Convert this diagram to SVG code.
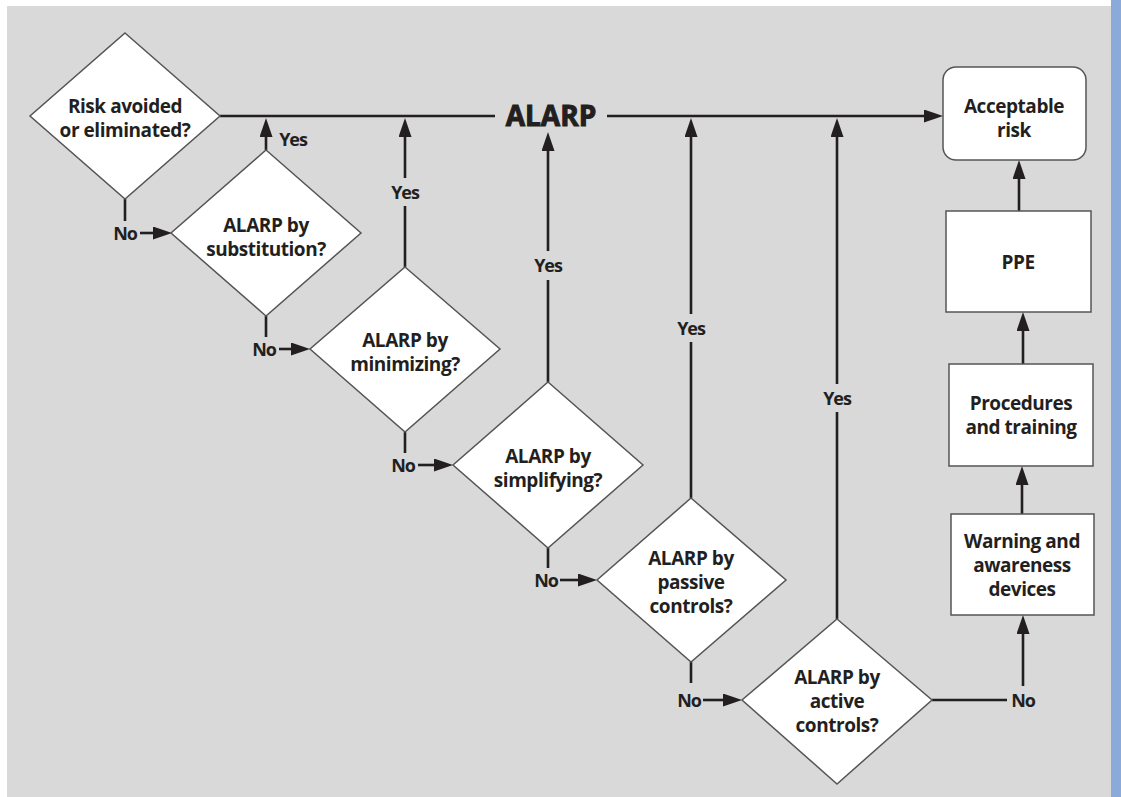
<svg xmlns="http://www.w3.org/2000/svg" width="1121" height="797" viewBox="0 0 1121 797">
<defs>
<style>
.t{font-family:"Open Sans","Liberation Sans",Arial,sans-serif;font-weight:700;font-size:19px;letter-spacing:-0.45px;fill:#231f20;text-anchor:middle}
.y{font-size:18px;letter-spacing:-1.1px}
.d{fill:#ffffff;stroke:#555555;stroke-width:1.5}
.b{fill:#ffffff;stroke:#555555;stroke-width:1.5}
.c{fill:none;stroke:#231f20;stroke-width:2.6}
</style>
<marker id="ah" markerUnits="userSpaceOnUse" markerWidth="20" markerHeight="14" refX="9" refY="6.5" orient="auto">
<path d="M0,0 L19,6.5 L0,13 z" fill="#231f20"/>
</marker>
</defs>
<rect x="0" y="0" width="1121" height="797" fill="#ffffff"/>
<rect x="7" y="6" width="1104" height="791" fill="#d9d9d9"/>
<rect x="1111" y="0" width="10" height="797" fill="#8aaad9"/>

<g id="connectors">
<path class="c" d="M220,116 H495"/>
<path class="c" d="M607,116 H933" marker-end="url(#ah)"/>
<text class="t" x="551" y="126" style="font-size:28px;letter-spacing:0;stroke:#231f20;stroke-width:1">ALARP</text>
<path class="c" d="M266,150 V128" marker-end="url(#ah)"/>
<text class="t y" x="293" y="146">Yes</text>
<path class="c" d="M405,267 V206 M405,178 V128" marker-end="url(#ah)"/>
<text class="t y" x="405" y="199">Yes</text>
<path class="c" d="M548,382 V280 M548,251 V142" marker-end="url(#ah)"/>
<text class="t y" x="548" y="272">Yes</text>
<path class="c" d="M691,498 V342 M691,314 V128" marker-end="url(#ah)"/>
<text class="t y" x="691" y="335">Yes</text>
<path class="c" d="M837,619 V412 M837,384 V128" marker-end="url(#ah)"/>
<text class="t y" x="837" y="405">Yes</text>
<path class="c" d="M125,199 V221"/>
<text class="t y" x="125" y="240">No</text>
<path class="c" d="M140,233 H162" marker-end="url(#ah)"/>
<path class="c" d="M266,316 V337"/>
<text class="t y" x="264" y="356">No</text>
<path class="c" d="M279,349 H300" marker-end="url(#ah)"/>
<path class="c" d="M405,432 V453"/>
<text class="t y" x="403" y="472">No</text>
<path class="c" d="M418,465 H443" marker-end="url(#ah)"/>
<path class="c" d="M548,548 V568"/>
<text class="t y" x="546" y="587">No</text>
<path class="c" d="M560,580 H587" marker-end="url(#ah)"/>
<path class="c" d="M691,662 V683"/>
<text class="t y" x="689" y="707">No</text>
<path class="c" d="M703,700 H732" marker-end="url(#ah)"/>
<path class="c" d="M932,700 H1007"/>
<text class="t y" x="1023" y="707">No</text>
<path class="c" d="M1023,686 V625" marker-end="url(#ah)"/>
<path class="c" d="M1022,514 V476" marker-end="url(#ah)"/>
<path class="c" d="M1023,364 V322" marker-end="url(#ah)"/>
<path class="c" d="M1019,211 V170" marker-end="url(#ah)"/>
</g>

<g id="n1">
<polygon class="d" points="125,33 220,116 125,199 30,116"/>
<text class="t" x="125" y="113">Risk avoided</text>
<text class="t" x="125" y="137">or eliminated?</text>
</g>
<g id="n2">
<polygon class="d" points="266,150 361,233 266,316 171,233"/>
<text class="t" x="266" y="232">ALARP by</text>
<text class="t" x="266" y="256">substitution?</text>
</g>
<g id="n3">
<polygon class="d" points="405,267 500,349 405,432 310,349"/>
<text class="t" x="405" y="347">ALARP by</text>
<text class="t" x="405" y="371">minimizing?</text>
</g>
<g id="n4">
<polygon class="d" points="548,382 643,465 548,548 453,465"/>
<text class="t" x="548" y="463">ALARP by</text>
<text class="t" x="548" y="487">simplifying?</text>
</g>
<g id="n5">
<polygon class="d" points="691,498 786,580 691,662 597,580"/>
<text class="t" x="691" y="565">ALARP by</text>
<text class="t" x="691" y="589">passive</text>
<text class="t" x="691" y="613">controls?</text>
</g>
<g id="n6">
<polygon class="d" points="837,619 932,700 837,784 742,700"/>
<text class="t" x="837" y="684">ALARP by</text>
<text class="t" x="837" y="708">active</text>
<text class="t" x="837" y="732">controls?</text>
</g>
<g id="n7">
<rect class="b" x="943" y="67" width="143" height="93" rx="13"/>
<text class="t" x="1014" y="113">Acceptable</text>
<text class="t" x="1014" y="137">risk</text>
</g>
<g id="n8">
<rect class="b" x="946" y="211" width="145" height="101"/>
<text class="t" x="1018" y="269">PPE</text>
</g>
<g id="n9">
<rect class="b" x="949" y="364" width="144" height="102"/>
<text class="t" x="1021" y="410">Procedures</text>
<text class="t" x="1021" y="434">and training</text>
</g>
<g id="n10">
<rect class="b" x="951" y="514" width="143" height="101"/>
<text class="t" x="1022" y="548">Warning and</text>
<text class="t" x="1022" y="572">awareness</text>
<text class="t" x="1022" y="596">devices</text>
</g>
</svg>
